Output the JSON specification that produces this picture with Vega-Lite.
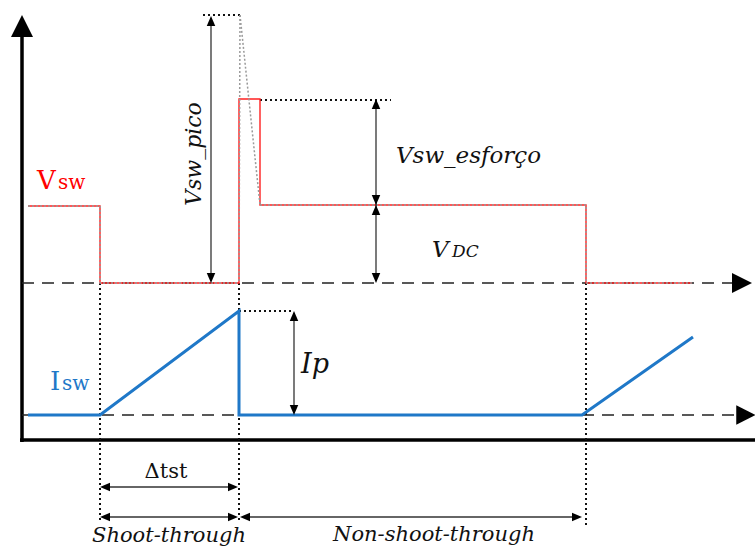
{
  "$schema": "https://vega.github.io/schema/vega-lite/v6.json",
  "width": 755,
  "height": 550,
  "autosize": {"type": "none"},
  "padding": 0,
  "background": "white",
  "config": {"view": {"stroke": null}, "text": {"font": "DejaVu Serif"}},
  "datasets": {
    "lines": [
      {"id": "a1", "k": "ax", "i": 0, "t": 22, "v": 108},
      {"id": "a1", "k": "ax", "i": 1, "t": 22, "v": 520},
      {"id": "a2", "k": "ax", "i": 0, "t": 20, "v": 110},
      {"id": "a2", "k": "ax", "i": 1, "t": 755, "v": 110},
      {"id": "d1", "k": "da", "i": 0, "t": 22, "v": 267},
      {"id": "d1", "k": "da", "i": 1, "t": 735, "v": 267},
      {"id": "d2", "k": "da", "i": 0, "t": 22, "v": 135},
      {"id": "d2", "k": "da", "i": 1, "t": 738, "v": 135},
      {"id": "o1", "k": "do", "i": 0, "t": 203, "v": 535},
      {"id": "o1", "k": "do", "i": 1, "t": 240, "v": 535},
      {"id": "o2", "k": "do", "i": 0, "t": 260, "v": 450},
      {"id": "o2", "k": "do", "i": 1, "t": 391, "v": 450},
      {"id": "o3", "k": "do", "i": 0, "t": 239, "v": 239},
      {"id": "o3", "k": "do", "i": 1, "t": 294, "v": 239},
      {"id": "o4", "k": "do", "i": 0, "t": 100, "v": 267},
      {"id": "o4", "k": "do", "i": 1, "t": 100, "v": 30},
      {"id": "o5", "k": "do", "i": 0, "t": 239, "v": 267},
      {"id": "o5", "k": "do", "i": 1, "t": 239, "v": 30},
      {"id": "o6", "k": "do", "i": 0, "t": 586, "v": 267},
      {"id": "o6", "k": "do", "i": 1, "t": 586, "v": 25},
      {"id": "r1", "k": "rd", "i": 0, "t": 28, "v": 344},
      {"id": "r1", "k": "rd", "i": 1, "t": 100, "v": 344},
      {"id": "r1", "k": "rd", "i": 2, "t": 100, "v": 267},
      {"id": "r1", "k": "rd", "i": 3, "t": 239, "v": 267},
      {"id": "r1", "k": "rd", "i": 4, "t": 239, "v": 451},
      {"id": "r1", "k": "rd", "i": 5, "t": 260, "v": 451},
      {"id": "r1", "k": "rd", "i": 6, "t": 260, "v": 345},
      {"id": "r1", "k": "rd", "i": 7, "t": 586, "v": 345},
      {"id": "r1", "k": "rd", "i": 8, "t": 586, "v": 267},
      {"id": "r1", "k": "rd", "i": 9, "t": 692, "v": 267},
      {"id": "g1", "k": "gr", "i": 0, "t": 240, "v": 535},
      {"id": "g1", "k": "gr", "i": 1, "t": 239, "v": 267},
      {"id": "g2", "k": "gr", "i": 0, "t": 240, "v": 535},
      {"id": "g2", "k": "gr", "i": 1, "t": 260, "v": 345},
      {"id": "g3", "k": "gr", "i": 0, "t": 28, "v": 344},
      {"id": "g3", "k": "gr", "i": 1, "t": 100, "v": 344},
      {"id": "g3", "k": "gr", "i": 2, "t": 100, "v": 267},
      {"id": "g3", "k": "gr", "i": 3, "t": 239, "v": 267},
      {"id": "g4", "k": "gr", "i": 0, "t": 260, "v": 345},
      {"id": "g4", "k": "gr", "i": 1, "t": 586, "v": 345},
      {"id": "g4", "k": "gr", "i": 2, "t": 586, "v": 267},
      {"id": "g4", "k": "gr", "i": 3, "t": 692, "v": 267},
      {"id": "b1", "k": "bl", "i": 0, "t": 28, "v": 135},
      {"id": "b1", "k": "bl", "i": 1, "t": 100, "v": 135},
      {"id": "b1", "k": "bl", "i": 2, "t": 239, "v": 239},
      {"id": "b1", "k": "bl", "i": 3, "t": 239, "v": 135},
      {"id": "b1", "k": "bl", "i": 4, "t": 582, "v": 135},
      {"id": "b1", "k": "bl", "i": 5, "t": 693, "v": 213},
      {"id": "p1", "k": "ar", "i": 0, "t": 211, "v": 530},
      {"id": "p1", "k": "ar", "i": 1, "t": 211, "v": 271},
      {"id": "p2", "k": "ar", "i": 0, "t": 376, "v": 447},
      {"id": "p2", "k": "ar", "i": 1, "t": 376, "v": 345},
      {"id": "p3", "k": "ar", "i": 0, "t": 376, "v": 345},
      {"id": "p3", "k": "ar", "i": 1, "t": 376, "v": 271},
      {"id": "p4", "k": "ar", "i": 0, "t": 294, "v": 235},
      {"id": "p4", "k": "ar", "i": 1, "t": 294, "v": 139},
      {"id": "p5", "k": "ar", "i": 0, "t": 104, "v": 63},
      {"id": "p5", "k": "ar", "i": 1, "t": 234, "v": 63},
      {"id": "p6", "k": "ar", "i": 0, "t": 104, "v": 33},
      {"id": "p6", "k": "ar", "i": 1, "t": 234, "v": 33},
      {"id": "p7", "k": "ar", "i": 0, "t": 244, "v": 33},
      {"id": "p7", "k": "ar", "i": 1, "t": 578, "v": 33}
    ],
    "heads": [
      {"t": 22, "v": 524, "sh": "M0,-1L-1,1L1,1Z", "s": 484},
      {"t": 742, "v": 267, "sh": "M1,0L-1,-1L-1,1Z", "s": 400},
      {"t": 746, "v": 135, "sh": "M1,0L-1,-1L-1,1Z", "s": 380},
      {"t": 211, "v": 529, "sh": "M0,-1L-0.85,1L0.85,1Z", "s": 100},
      {"t": 211, "v": 272, "sh": "M0,1L-0.85,-1L0.85,-1Z", "s": 100},
      {"t": 376, "v": 446, "sh": "M0,-1L-0.85,1L0.85,1Z", "s": 100},
      {"t": 376, "v": 350, "sh": "M0,1L-0.85,-1L0.85,-1Z", "s": 100},
      {"t": 376, "v": 340, "sh": "M0,-1L-0.85,1L0.85,1Z", "s": 100},
      {"t": 376, "v": 272, "sh": "M0,1L-0.85,-1L0.85,-1Z", "s": 100},
      {"t": 294, "v": 234, "sh": "M0,-1L-0.85,1L0.85,1Z", "s": 100},
      {"t": 294, "v": 140, "sh": "M0,1L-0.85,-1L0.85,-1Z", "s": 100},
      {"t": 105, "v": 63, "sh": "M-1,0L1,-0.85L1,0.85Z", "s": 100},
      {"t": 233, "v": 63, "sh": "M1,0L-1,-0.85L-1,0.85Z", "s": 100},
      {"t": 105, "v": 33, "sh": "M-1,0L1,-0.85L1,0.85Z", "s": 100},
      {"t": 233, "v": 33, "sh": "M1,0L-1,-0.85L-1,0.85Z", "s": 100},
      {"t": 245, "v": 33, "sh": "M-1,0L1,-0.85L1,0.85Z", "s": 100},
      {"t": 577, "v": 33, "sh": "M1,0L-1,-0.85L-1,0.85Z", "s": 100}
    ],
    "txt": [
      {"label": "V", "t": 37, "v": 361, "c": "#ff0000", "fs": 26, "sty": "n", "al": "l"},
      {"label": "sw", "t": 58, "v": 361, "c": "#ff0000", "fs": 20, "sty": "n", "al": "l"},
      {"label": "I", "t": 50, "v": 160, "c": "#1f78c8", "fs": 26, "sty": "n", "al": "l"},
      {"label": "sw", "t": 62, "v": 160, "c": "#1f78c8", "fs": 20, "sty": "n", "al": "l"},
      {"label": "Δtst", "t": 166, "v": 72, "c": "#111111", "fs": 21, "sty": "n", "al": "c"},
      {"label": "Vsw_esforço", "t": 396, "v": 387, "c": "#111111", "fs": 23, "sty": "i", "al": "l"},
      {"label": "V", "t": 432, "v": 293, "c": "#111111", "fs": 23, "sty": "i", "al": "l"},
      {"label": "DC", "t": 452, "v": 293, "c": "#111111", "fs": 17, "sty": "i", "al": "l"},
      {"label": "Ip", "t": 301, "v": 177, "c": "#111111", "fs": 27, "sty": "i", "al": "l"},
      {"label": "Shoot-through", "t": 169, "v": 8, "c": "#111111", "fs": 21, "sty": "i", "al": "c"},
      {"label": "Non-shoot-through", "t": 434, "v": 9, "c": "#111111", "fs": 21, "sty": "i", "al": "c"},
      {"label": "Vsw_pico", "t": 201, "v": 396, "c": "#111111", "fs": 22, "sty": "i", "al": "r"}
    ]
  },
  "encoding": {
    "x": {"field": "t", "type": "quantitative", "scale": {"domain": [0, 755], "nice": false, "zero": false}, "axis": null},
    "y": {"field": "v", "type": "quantitative", "scale": {"domain": [0, 550], "nice": false, "zero": false}, "axis": null}
  },
  "layer": [
    {
      "data": {"name": "lines"},
      "transform": [{"filter": "datum.k === 'ax'"}],
      "mark": {"type": "line", "color": "#000000", "strokeWidth": 3.5, "strokeCap": "butt"},
      "encoding": {"detail": {"field": "id"}, "order": {"field": "i", "type": "quantitative"}}
    },
    {
      "data": {"name": "lines"},
      "transform": [{"filter": "datum.k === 'da'"}],
      "mark": {"type": "line", "color": "#222222", "strokeWidth": 1.6, "strokeDash": [12, 8]},
      "encoding": {"detail": {"field": "id"}, "order": {"field": "i", "type": "quantitative"}}
    },
    {
      "data": {"name": "lines"},
      "transform": [{"filter": "datum.k === 'do'"}],
      "mark": {"type": "line", "color": "#111111", "strokeWidth": 2, "strokeDash": [2, 3]},
      "encoding": {"detail": {"field": "id"}, "order": {"field": "i", "type": "quantitative"}}
    },
    {
      "data": {"name": "lines"},
      "transform": [{"filter": "datum.k === 'rd'"}],
      "mark": {"type": "line", "color": "#ff2020", "strokeWidth": 1.4, "strokeJoin": "miter"},
      "encoding": {"detail": {"field": "id"}, "order": {"field": "i", "type": "quantitative"}}
    },
    {
      "data": {"name": "lines"},
      "transform": [{"filter": "datum.k === 'gr'"}],
      "mark": {"type": "line", "color": "#9a9a9a", "strokeWidth": 1.5, "strokeDash": [2, 2]},
      "encoding": {"detail": {"field": "id"}, "order": {"field": "i", "type": "quantitative"}}
    },
    {
      "data": {"name": "lines"},
      "transform": [{"filter": "datum.k === 'bl'"}],
      "mark": {"type": "line", "color": "#1f78c8", "strokeWidth": 3, "strokeJoin": "miter"},
      "encoding": {"detail": {"field": "id"}, "order": {"field": "i", "type": "quantitative"}}
    },
    {
      "data": {"name": "lines"},
      "transform": [{"filter": "datum.k === 'ar'"}],
      "mark": {"type": "line", "color": "#333333", "strokeWidth": 1.3},
      "encoding": {"detail": {"field": "id"}, "order": {"field": "i", "type": "quantitative"}}
    },
    {
      "data": {"name": "heads"},
      "mark": {"type": "point", "filled": true, "color": "#000000", "opacity": 1, "strokeWidth": 0},
      "encoding": {
        "shape": {"field": "sh", "type": "nominal", "scale": null},
        "size": {"field": "s", "type": "quantitative", "scale": null}
      }
    },
    {
      "data": {"name": "txt"},
      "transform": [{"filter": "datum.sty === 'n' && datum.al === 'l'"}],
      "mark": {"type": "text", "font": "DejaVu Serif", "align": "left", "baseline": "alphabetic"},
      "encoding": {
        "text": {"field": "label"},
        "color": {"field": "c", "type": "nominal", "scale": null},
        "size": {"field": "fs", "type": "quantitative", "scale": null}
      }
    },
    {
      "data": {"name": "txt"},
      "transform": [{"filter": "datum.sty === 'n' && datum.al === 'c'"}],
      "mark": {"type": "text", "font": "DejaVu Serif", "align": "center", "baseline": "alphabetic"},
      "encoding": {
        "text": {"field": "label"},
        "color": {"field": "c", "type": "nominal", "scale": null},
        "size": {"field": "fs", "type": "quantitative", "scale": null}
      }
    },
    {
      "data": {"name": "txt"},
      "transform": [{"filter": "datum.sty === 'i' && datum.al === 'l'"}],
      "mark": {"type": "text", "font": "DejaVu Serif", "fontStyle": "italic", "align": "left", "baseline": "alphabetic"},
      "encoding": {
        "text": {"field": "label"},
        "color": {"field": "c", "type": "nominal", "scale": null},
        "size": {"field": "fs", "type": "quantitative", "scale": null}
      }
    },
    {
      "data": {"name": "txt"},
      "transform": [{"filter": "datum.sty === 'i' && datum.al === 'c'"}],
      "mark": {"type": "text", "font": "DejaVu Serif", "fontStyle": "italic", "align": "center", "baseline": "alphabetic"},
      "encoding": {
        "text": {"field": "label"},
        "color": {"field": "c", "type": "nominal", "scale": null},
        "size": {"field": "fs", "type": "quantitative", "scale": null}
      }
    },
    {
      "data": {"name": "txt"},
      "transform": [{"filter": "datum.al === 'r'"}],
      "mark": {"type": "text", "font": "DejaVu Serif", "fontStyle": "italic", "align": "center", "baseline": "alphabetic", "angle": 270},
      "encoding": {
        "text": {"field": "label"},
        "color": {"field": "c", "type": "nominal", "scale": null},
        "size": {"field": "fs", "type": "quantitative", "scale": null}
      }
    }
  ]
}
